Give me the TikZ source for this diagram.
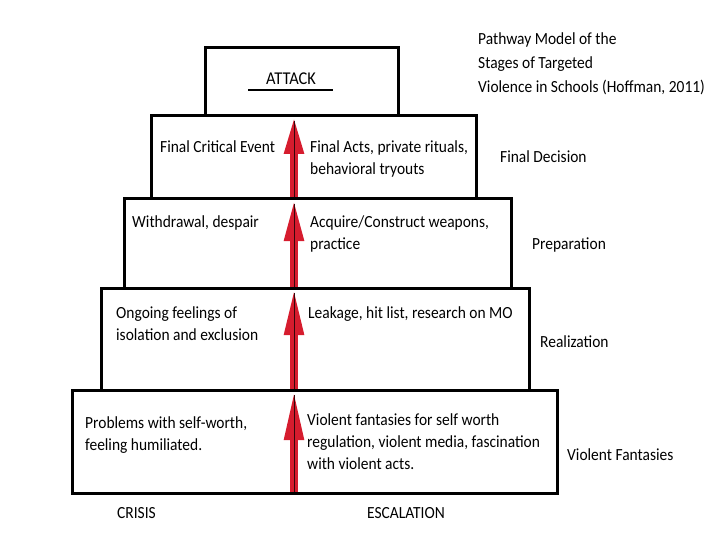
\documentclass[tikz,border=0pt]{standalone}
\usepackage{fontspec}
\setmainfont{Carlito}[FakeStretch=0.91]
\usepackage{tikz}
\usetikzlibrary{arrows.meta, positioning, calc, backgrounds}
\definecolor{pathred}{RGB}{214,28,46}

\begin{document}
\begin{tikzpicture}[x=1pt, y=-1pt,
    stagebox/.style={draw, line width=3pt, inner sep=0pt, outer sep=0pt},
    txt/.style={font=\fontsize{17}{22}\selectfont, inner sep=0pt, align=left},
    redarrow/.style={pathred, line width=8pt, -{Triangle[width=18pt, length=#1]}}]
  \useasboundingbox (0,0) rectangle (720,540);
  \node[stagebox, minimum width=193pt, minimum height=68pt] (attack) at (301.5,82) {};
  \node[stagebox, minimum width=325pt, minimum height=83pt] (decision) at (313.5,157.5) {};
  \node[stagebox, minimum width=387pt, minimum height=89pt] (preparation) at (317.5,243.5) {};
  \node[stagebox, minimum width=428pt, minimum height=102pt] (realization) at (315,339) {};
  \node[stagebox, minimum width=485pt, minimum height=103pt] (violent) at (314.5,441.5) {};
  \coordinate (axis) at (294,0);
  \begin{scope}[on background layer]
    \foreach \b/\l in {decision/38pt, preparation/42pt, realization/47pt, violent/50pt}{
      \draw[redarrow=\l] (\b.south -| axis) -- (\b.north -| axis);
      \draw[black!75!pathred, line width=1pt] (\b.south -| axis) -- ($(\b.north -| axis)+(0,5)$);
    }
  \end{scope}
  \node[txt, anchor=base, font=\fontsize{18}{22}\selectfont] (attacklbl) at (291,85) {ATTACK};
  \draw[line width=2.3pt] (248,90) -- (333,90);
  \node[txt, anchor=north west, font=\fontsize{17}{24}\selectfont] (title) at (478,32)
    {Pathway Model of the\\Stages of Targeted\\Violence in Schools (Hoffman, 2011)};
  \node[txt, anchor=north west] (critical) at (160,140) {Final Critical Event};
  \node[txt, anchor=north west] (acts) at (310,140) {Final Acts, private rituals,\\behavioral tryouts};
  \node[txt, anchor=north west] (withdrawal) at (132,215) {Withdrawal, despair};
  \node[txt, anchor=north west] (weapons) at (310,215) {Acquire/Construct weapons,\\practice};
  \node[txt, anchor=north west] (isolation) at (116,306) {Ongoing feelings of\\isolation and exclusion};
  \node[txt, anchor=north west] (leakage) at (308,306) {Leakage, hit list, research on MO};
  \node[txt, anchor=north west] (selfworth) at (85,416) {Problems with self-worth,\\feeling humiliated.};
  \node[txt, anchor=north west] (fantasies) at (307,413) {Violent fantasies for self worth\\regulation, violent media, fascination\\with violent acts.};
  \node[txt, anchor=base west] (decisionlbl) at (500,163) {Final Decision};
  \node[txt, anchor=base west] (preparationlbl) at (532,249) {Preparation};
  \node[txt, anchor=base west] (realizationlbl) at (540,347) {Realization};
  \node[txt, anchor=base west] (violentlbl) at (567,460) {Violent Fantasies};
  \node[txt, anchor=base west] (crisis) at (117,518) {CRISIS};
  \node[txt, anchor=base west] (escalation) at (367,518) {ESCALATION};
\end{tikzpicture}
\end{document}
